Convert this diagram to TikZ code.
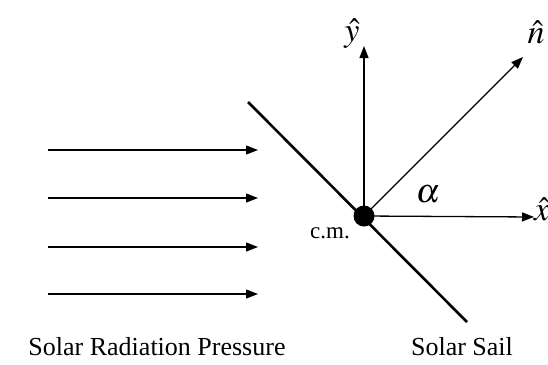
\documentclass[tikz,border=0pt]{standalone}
\usepackage{mathptmx}
\usepackage{fontspec}
\setmainfont{Liberation Serif}
\usetikzlibrary{arrows.meta}
\begin{document}
\begin{tikzpicture}[x=1pt,y=-1pt,
  vec/.style={line width=1.3pt,-{Triangle[length=12pt,width=9pt]}},
  sailline/.style={line width=2.6pt},
  lbl/.style={inner sep=0pt,anchor=base,font=\fontsize{26}{28}\selectfont},
  mlbl/.style={inner sep=0pt,anchor=base,font=\fontsize{34}{36}\selectfont}]
\useasboundingbox (0,0) rectangle (548,364);
% centre of mass
\coordinate (cm) at (364,216);
\coordinate (sailtop) at (248,102);
\coordinate (sailbot) at (467,322);
\draw[sailline] (sailtop) -- (sailbot);
\fill (cm) circle (10.5);
% axes
\coordinate (ytip) at (364,46);
\coordinate (ntip) at (523,57);
\coordinate (xtip) at (534,217);
\draw[vec] (cm) -- (ytip);
\draw[vec] (cm) -- (ntip);
\draw[vec] (cm) -- (xtip);
\node[mlbl] (ylab) at (352,41) {$\hat{y}$};
\node[mlbl] (nlab) at (536,43) {$\hat{n}$};
\node[mlbl,anchor=base west] (xlab) at (534,220) {$\hat{x}$};
\node[mlbl] (alab) at (428,202) {$\alpha$};
\node[inner sep=0pt,anchor=base,font=\fontsize{23}{24}\selectfont] (cmlab) at (330,238) {c.m.};
% radiation arrows
\foreach \i/\yy in {1/150,2/198,3/247,4/294}{
  \coordinate (s\i) at (48,\yy);
  \coordinate (e\i) at (258,\yy);
  \draw[vec] (s\i) -- (e\i);
}
\node[lbl] (srp) at (157,355) {Solar Radiation Pressure};
\node[lbl] (ss) at (462,355) {Solar Sail};
\end{tikzpicture}
\end{document}
